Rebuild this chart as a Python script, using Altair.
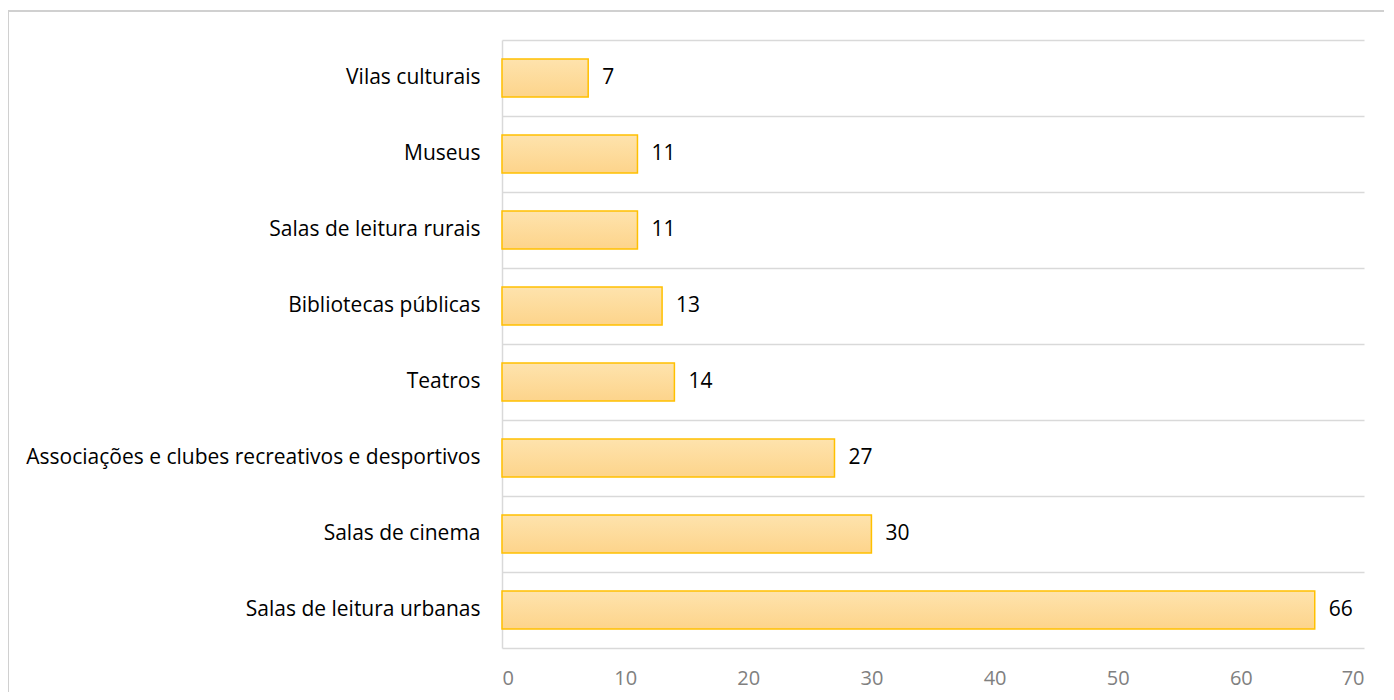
import altair as alt
import pandas as pd

categories = [
    "Vilas culturais",
    "Museus",
    "Salas de leitura rurais",
    "Bibliotecas públicas",
    "Teatros",
    "Associações e clubes recreativos e desportivos",
    "Salas de cinema",
    "Salas de leitura urbanas",
]
values = [7, 11, 11, 13, 14, 27, 30, 66]
x_ticks = [0, 10, 20, 30, 40, 50, 60, 70]

df = pd.DataFrame({"cat": categories, "val": values})

FONT = "Open Sans"

y_enc = alt.Y(
    "cat:N",
    sort=categories,
    scale=alt.Scale(paddingInner=0, paddingOuter=0),
    axis=alt.Axis(
        title=None,
        ticks=False,
        labelPadding=22,
        labelFontSize=21,
        labelColor="#000000",
        labelFont=FONT,
        domainColor="#d9d9d9",
        domainWidth=1.5,
        grid=True,
        gridColor="#d9d9d9",
        gridWidth=1.5,
        bandPosition=0,
        labelLimit=600,
    ),
)
x_enc = alt.X(
    "val:Q",
    scale=alt.Scale(domain=[0, 70], nice=False),
    axis=alt.Axis(
        title=None,
        values=x_ticks,
        grid=False,
        ticks=False,
        labelPadding=20,
        labelFontSize=20,
        labelColor="#808080",
        labelFont=FONT,
        domainColor="#d9d9d9",
        domainWidth=1.5,
    ),
)

bars = alt.Chart(df).mark_bar(
    height=alt.RelativeBandSize(0.5),
    fill=alt.Gradient(
        gradient="linear",
        x1=0, y1=0, x2=0, y2=1,
        stops=[
            alt.GradientStop(color="#fee3ad", offset=0),
            alt.GradientStop(color="#fdd48b", offset=1),
        ],
    ),
    stroke="#ffc000",
    strokeWidth=1.5,
).encode(x=x_enc, y=y_enc)

labels = alt.Chart(df).mark_text(
    align="left", baseline="middle", dx=14, fontSize=21, font=FONT, color="#000000"
).encode(
    x=alt.X("val:Q"),
    y=alt.Y("cat:N", sort=categories),
    text=alt.Text("val:Q"),
)

dummy = pd.DataFrame({"a": [0]})
border_left = alt.Chart(dummy).mark_rule(color="#d0d0d0", strokeWidth=2).encode(
    x=alt.value(-494), y=alt.value(-29), y2=alt.value(720)
)
border_top = alt.Chart(dummy).mark_rule(color="#d0d0d0", strokeWidth=2).encode(
    x=alt.value(-495), x2=alt.value(1400), y=alt.value(-29)
)

chart = alt.layer(border_left, border_top, bars, labels).properties(
    width=862,
    height=608,
    autosize=alt.AutoSizeParams(type="none"),
    padding={"left": 494, "top": 32, "right": 20, "bottom": 44},
).configure_view(stroke=None)

chart.save("out.html", embed_options={"renderer": "svg", "actions": False})
